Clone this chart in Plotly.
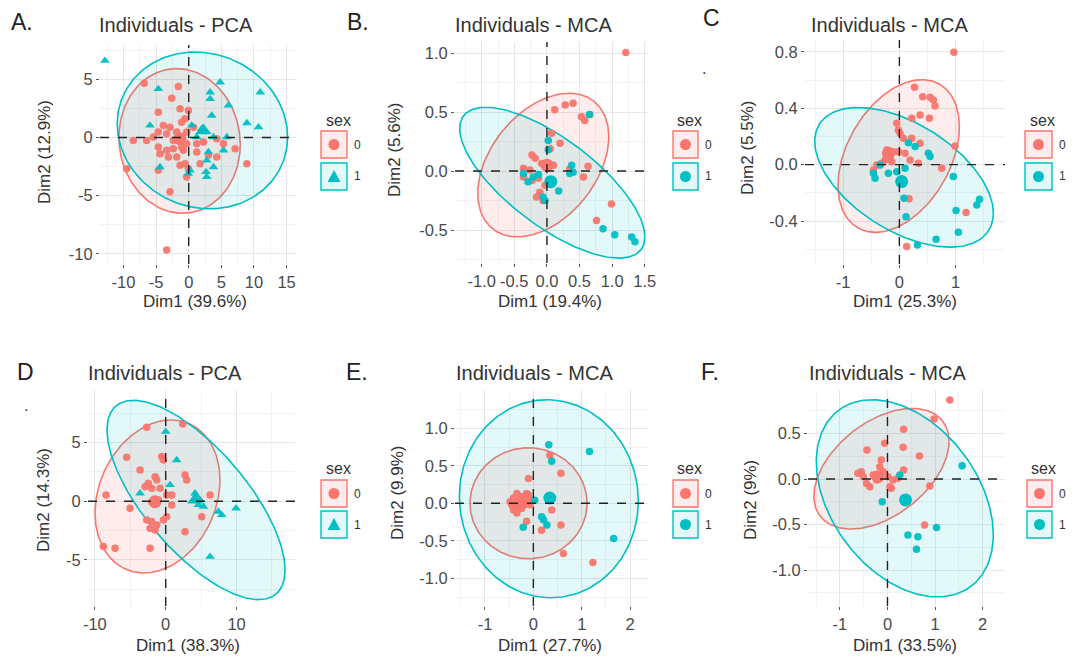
import numpy as np
import plotly.graph_objects as go

W, H = 1079, 663
RED = "#F8766D"
TEAL = "#00BFC4"
RED_FILL = "rgba(248,118,109,0.13)"
TEAL_FILL = "rgba(0,191,196,0.11)"
FONT = "Liberation Sans, Arial, sans-serif"

# ---------------- DATA ----------------
# Panel A (PCA)
A_x0 = [-6.81, -1.59, -2.61, -1.33, -4.66, -0.05, -0.56, -1.08, -3.89, -2.87, 0.72, -4.66, -3.38, -1.84, -0.31,
        -8.50, -6.45, -5.43, -0.31, 1.23, 2.25, 4.30, 5.33, 7.12, -4.66, -3.38, -2.36, -1.08, -4.40, -3.12, 1.23,
        3.02, 4.30, -1.33, -0.56, -0.05, 1.74, -9.52, -4.66, -2.87, -0.31, 8.91, -3.38, -2.36, -1.59, -0.82, -1.84]
A_y0 = [4.64, 4.36, 3.36, 2.45, 2.17, 2.31, 1.60, 1.31, 1.03, 0.88, 0.88, 0.46, 0.31, 0.46, 0.46,
        -0.26, -0.26, 0.03, -0.54, -0.54, -0.40, -0.11, -0.54, -0.97, -0.83, -1.11, -0.97, -0.83, -1.40, -1.68, -1.25,
        -1.54, -1.68, -2.39, -2.25, -2.68, -2.25, -2.68, -2.82, -4.67, -3.39, -2.25, -9.66, -0.26, 0.03, -1.11, -1.68]
A_x1 = [-12.85, -4.66, 4.81, 10.96, 3.28, 3.28, 6.09, 3.53, -5.94, 0.46, 2.00, 2.51, 8.91, 10.70, 5.84, 3.79,
        5.33, 3.02, 2.76, 3.79, 2.66, 2.76, 0.20, -4.40, -0.05, 1.23]
A_y1 = [6.58, 4.16, 4.73, 3.87, 3.87, 3.30, 2.74, 1.88, 1.03, 1.03, 0.74, 0.46, 1.23, 0.88, 0.03, 0.03,
        -1.11, -1.25, -1.97, -2.54, -2.96, -3.39, -2.82, -2.54, -3.11, 0.03]
A_mean0 = [-1.33, -0.11]
A_mean1 = [2.25, 0.60]
# ellipse: centre x, centre y, x half-extent, y offset of x-extreme, vertical half-chord
A_ell0 = [-1.4, -0.3, 9.3, -0.3, 6.2]
A_ell1 = [2.1, 0.6, 13.06, -0.57, 6.7]

# Panel B (MCA)
B_x0 = [1.21, 0.12, 0.28, 0.40, 0.53, 0.58, 0.66, 0.07, 0.20, 0.05, -0.23, -0.18, -0.08, 0.02, 0.10, -0.36, -0.26,
        -0.36, -0.23, -0.13, -0.03, -0.11, -0.16, -0.06, 0.05, 0.63, 0.56, 0.35, 0.99, 0.76]
B_y0 = [1.006, 0.52, 0.56, 0.575, 0.46, 0.43, 0.48, 0.32, 0.235, 0.19, 0.136, 0.108, 0.065, 0.065, 0.05, 0.023, 0.01,
        -0.05, -0.08, -0.06, -0.12, -0.18, -0.22, -0.25, -0.10, 0.04, -0.05, 0.02, -0.28, -0.42]
B_x1 = [0.65, 0.02, 0.02, -0.36, -0.29, -0.21, -0.13, 0.18, -0.06, -0.03, 0.38, 0.40, 0.35, 0.86, 1.04, 1.30, 1.35]
B_y1 = [0.48, 0.26, 0.18, -0.02, -0.09, -0.05, -0.03, -0.17, -0.22, -0.25, 0.05, -0.01, -0.02, -0.49, -0.54, -0.56, -0.60]
B_mean0 = [0.0, 0.05]
B_mean1 = [0.06, -0.09]
B_ell0 = [-0.056, 0.051, 1.005, 0.24, 0.56]
B_ell1 = [0.082, -0.099, 1.42, -0.46, 0.445]

# Panel C (MCA)
C_x0 = [0.97, 0.27, 0.415, 0.546, 0.605, 0.635, 0.22, 0.368, 0.534, -0.047, -0.018, 0.012, 0.071, 0.22, 0.368, 0.99,
        -0.226, -0.107, -0.166, -0.255, -0.315, -0.404, -0.463, -0.136, -0.018, 0.10, 0.19, 0.338, 0.754, 0.172,
        1.187, 0.13]
C_y0 = [0.797, 0.548, 0.482, 0.478, 0.459, 0.416, 0.329, 0.352, 0.329, 0.293, 0.246, 0.222, 0.187, 0.187, 0.151, 0.132,
        0.104, 0.092, 0.057, 0.033, 0.009, -0.002, -0.038, 0.021, 0.092, 0.08, 0.033, 0.009, -0.026, -0.243,
        -0.34, -0.58]
C_x1 = [0.16, 0.279, 0.516, 0.546, -0.344, -0.463, -0.433, -0.196, -0.047, 0.10, 0.083, 0.119, 0.96, 1.427, 1.377,
        1.009, 1.05, 0.653, 0.32]
C_y1 = [0.156, 0.128, 0.08, 0.057, -0.002, -0.061, -0.097, -0.061, -0.05, -0.026, -0.239, -0.369, -0.085, -0.246,
        -0.286, -0.326, -0.48, -0.53, -0.57]
C_mean0 = [-0.196, 0.08]
C_mean1 = [0.04, -0.12]
C_ell0 = [-0.012, 0.061, 1.08, 0.208, 0.50]
C_ell1 = [0.083, -0.09, 1.59, -0.255, 0.425]

# Panel D (PCA)
D_x0 = [-2.68, 2.40, -5.51, -0.56, -0.33, -3.62, 2.73, 2.96, -1.51, -1.27, -2.45, -2.92, -1.98, -0.80, -8.42, -1.98,
        -1.04, 0.14, 0.85, 6.26, 0.85, -5.04, 5.08, -2.68, -1.98, -1.27, -2.21, -1.51, -0.33, 0.14, 2.73, -8.80,
        -7.15, -2.21]
D_y0 = [6.31, 6.59, 3.75, 3.81, 3.52, 2.67, 2.24, 1.82, 2.10, 1.82, 1.53, 1.25, 1.11, 1.11, 0.54, -0.03,
        0.11, 0.54, 0.54, 0.54, -0.31, -0.60, -1.31, -1.59, -1.73, -2.02, -2.30, -2.44, -1.59, -1.31, -2.59, -3.86,
        -4.01, -4.01]
D_x1 = [0.0, 1.55, -3.62, 0.61, 4.14, 4.38, 4.85, 4.61, 5.32, 7.44, 7.91, 9.93, 6.26]
D_y1 = [5.94, 3.52, 0.68, 1.39, 0.68, 0.40, 0.11, -0.31, -0.45, -0.88, -1.16, -0.60, -4.72]
D_mean0 = [-1.51, -0.03]
D_mean1 = [4.14, 0.11]
D_ell0 = [-1.16, 0.41, 8.82, 1.41, 6.37]
D_ell1 = [4.28, 0.11, 12.57, -5.97, 6.05]

# Panel E (MCA)
E_x0 = [-0.48, -0.41, -0.38, -0.34, -0.31, -0.28, -0.24, -0.21, -0.17, -0.14, -0.10, -0.07, -0.03, -0.41, -0.34,
        -0.24, -0.14, -0.45, 0.34, -0.10, 0.57, 0.38, -0.14, 0.17, 0.57, 0.62, 1.23]
E_y0 = [0.02, 0.07, -0.02, 0.13, -0.04, 0.04, 0.09, 0.0, 0.07, 0.02, 0.11, -0.02, 0.04, -0.09, -0.13,
        -0.07, 0.13, -0.02, 0.64, 0.33, 0.40, -0.09, -0.24, -0.36, -0.29, -0.67, -0.79]
E_x1 = [0.32, 0.38, 1.16, 0.17, 0.28, 0.21, -0.21, 1.66, 0.03]
E_y1 = [0.78, 0.56, 0.69, -0.18, -0.29, -0.22, -0.32, -0.47, 0.04]
E_mean0 = [-0.21, 0.01]
E_mean1 = [0.34, 0.07]
E_ell0 = [-0.10, 0.0, 1.21, 0.0, 0.74]
E_ell1 = [0.32, 0.06, 1.85, -0.03, 1.32]

# Panel F (MCA)
F_x0 = [1.31, 0.98, 0.34, -0.43, 0.33, 0.67, 0.34, -0.06, -0.13, -0.16, -0.62, -0.51, -0.44, -0.30, -0.23, -0.09,
        0.01, 0.12, 0.22, 0.05, 0.08, -0.37, -0.55, 0.89, 0.78]
F_y0 = [0.867, 0.659, 0.545, 0.318, 0.348, 0.252, 0.099, 0.392, 0.209, 0.135, 0.062, 0.026, -0.048, 0.044, -0.011,
        0.08, 0.026, -0.011, 0.007, -0.084, -0.102, -0.084, 0.08, -0.077, -0.505]
F_x1 = [1.57, 0.26, -0.11, 0.43, 0.64, 0.61, 1.03]
F_y1 = [0.146, 0.044, -0.249, -0.615, -0.633, -0.772, -0.531]
F_mean0 = [-0.20, 0.026]
F_mean1 = [0.38, -0.23]
F_ell0 = [-0.126, 0.113, 1.42, 0.30, 0.59]
F_ell1 = [0.364, -0.212, 1.86, -0.40, 1.006]

# Tick labels
A_xticks = [-10, -5, 0, 5, 10, 15]; A_xlabels = ["-10", "-5", "0", "5", "10", "15"]
A_yticks = [-10, -5, 0, 5]; A_ylabels = ["-10", "-5", "0", "5"]
B_xticks = [-1.0, -0.5, 0.0, 0.5, 1.0, 1.5]; B_xlabels = ["-1.0", "-0.5", "0.0", "0.5", "1.0", "1.5"]
B_yticks = [-0.5, 0.0, 0.5, 1.0]; B_ylabels = ["-0.5", "0.0", "0.5", "1.0"]
C_xticks = [-1, 0, 1]; C_xlabels = ["-1", "0", "1"]
C_yticks = [-0.4, 0.0, 0.4, 0.8]; C_ylabels = ["-0.4", "0.0", "0.4", "0.8"]
D_xticks = [-10, 0, 10]; D_xlabels = ["-10", "0", "10"]
D_yticks = [-5, 0, 5]; D_ylabels = ["-5", "0", "5"]
E_xticks = [-1, 0, 1, 2]; E_xlabels = ["-1", "0", "1", "2"]
E_yticks = [-1.0, -0.5, 0.0, 0.5, 1.0]; E_ylabels = ["-1.0", "-0.5", "0.0", "0.5", "1.0"]
F_xticks = [-1, 0, 1, 2]; F_xlabels = ["-1", "0", "1", "2"]
F_yticks = [-1.0, -0.5, 0.0, 0.5]; F_ylabels = ["-1.0", "-0.5", "0.0", "0.5"]

labels = ["A.", "B.", "C", "D", "E.", "F."]
titles = ["Individuals - PCA", "Individuals - MCA", "Individuals - MCA",
          "Individuals - PCA", "Individuals - MCA", "Individuals - MCA"]
xtitles = ["Dim1 (39.6%)", "Dim1 (19.4%)", "Dim1 (25.3%)", "Dim1 (38.3%)", "Dim1 (27.7%)", "Dim1 (33.5%)"]
ytitles = ["Dim2 (12.9%)", "Dim2 (5.6%)", "Dim2 (5.5%)", "Dim2 (14.3%)", "Dim2 (9.9%)", "Dim2 (9%)"]
legend_title = "sex"
groups = ["0", "1"]

# ---------------- LAYOUT (pixels) ----------------
panels = [
    dict(d=(A_x0, A_y0, A_x1, A_y1, A_mean0, A_mean1, A_ell0, A_ell1), sym1="triangle-up",
         box=(100, 297, 45, 264), xr=(-13.6, 16.6), yr=(-10.86, 7.93),
         xt=(A_xticks, A_xlabels), yt=(A_yticks, A_ylabels), xminor=2.5, yminor=2.5,
         lab=(22, 22), tit=(97, 25), xtl=(195, 302), ytl=(45, 152), leg=(321, 347, 120, 131, 163)),
    dict(d=(B_x0, B_y0, B_x1, B_y1, B_mean0, B_mean1, B_ell0, B_ell1), sym1="circle",
         box=(455, 648, 42, 263), xr=(-1.41, 1.55), yr=(-0.78, 1.095),
         xt=(B_xticks, B_xlabels), yt=(B_yticks, B_ylabels), xminor=0.25, yminor=0.25,
         lab=(358, 22), tit=(453, 25), xtl=(550, 302), ytl=(395, 150), leg=(673, 698, 120, 131, 163)),
    dict(d=(C_x0, C_y0, C_x1, C_y1, C_mean0, C_mean1, C_ell0, C_ell1), sym1="circle",
         box=(805, 1005, 40, 264), xr=(-1.68, 1.88), yr=(-0.705, 0.884),
         xt=(C_xticks, C_xlabels), yt=(C_yticks, C_ylabels), xminor=0.5, yminor=0.2,
         lab=(711, 18), tit=(809, 25), xtl=(905, 302), ytl=(747, 148), leg=(1025, 1052, 120, 131, 163)),
    dict(d=(D_x0, D_y0, D_x1, D_y1, D_mean0, D_mean1, D_ell0, D_ell1), sym1="triangle-up",
         box=(88, 295, 390, 606), xr=(-10.97, 18.25), yr=(-8.93, 9.49),
         xt=(D_xticks, D_xlabels), yt=(D_yticks, D_ylabels), xminor=5, yminor=2.5,
         lab=(25, 372), tit=(86, 373), xtl=(188, 645), ytl=(43, 500), leg=(321, 347, 468, 480, 511)),
    dict(d=(E_x0, E_y0, E_x1, E_y1, E_mean0, E_mean1, E_ell0, E_ell1), sym1="circle",
         box=(455, 648, 390, 606), xr=(-1.62, 2.37), yr=(-1.37, 1.51),
         xt=(E_xticks, E_xlabels), yt=(E_yticks, E_ylabels), xminor=0.5, yminor=0.25,
         lab=(357, 372), tit=(454, 373), xtl=(550, 645), ytl=(397, 493), leg=(673, 698, 468, 480, 511)),
    dict(d=(F_x0, F_y0, F_x1, F_y1, F_mean0, F_mean1, F_ell0, F_ell1), sym1="circle",
         box=(808, 1005, 390, 606), xr=(-1.67, 2.47), yr=(-1.394, 0.977),
         xt=(F_xticks, F_xlabels), yt=(F_yticks, F_ylabels), xminor=0.5, yminor=0.25,
         lab=(710, 372), tit=(807, 373), xtl=(905, 645), ytl=(750, 500), leg=(1027, 1052, 468, 480, 511)),
]


def px(x):
    return x / W


def py(y):
    return 1 - y / H


def ellipse(p, n=240):
    cx, cy, ax, ay, by = p
    t = np.linspace(0, 2 * np.pi, n)
    return cx + ax * np.cos(t), cy + ay * np.cos(t) + by * np.sin(t)


fig = go.Figure()
shapes = []
annotations = []

for i, p in enumerate(panels):
    k = "" if i == 0 else str(i + 1)
    xa, ya = "x" + k, "y" + k
    x0, y0, x1, y1, m0, m1, e0, e1 = p["d"]
    bx0, bx1, by0, by1 = p["box"]

    # ellipses
    for e, col, fillc in ((e0, RED, RED_FILL), (e1, TEAL, TEAL_FILL)):
        ex, ey = ellipse(e)
        fig.add_trace(go.Scatter(x=ex, y=ey, mode="lines", fill="toself", fillcolor=fillc,
                                 line=dict(color=col, width=1.6), hoverinfo="skip", showlegend=False,
                                 xaxis=xa, yaxis=ya))
    # points
    fig.add_trace(go.Scatter(x=x0, y=y0, mode="markers", showlegend=False, xaxis=xa, yaxis=ya,
                             marker=dict(color=RED, size=7.5, symbol="circle", opacity=0.95,
                                         line=dict(width=0))))
    fig.add_trace(go.Scatter(x=x1, y=y1, mode="markers", showlegend=False, xaxis=xa, yaxis=ya,
                             marker=dict(color=TEAL, size=8.5 if p["sym1"] != "circle" else 7.5,
                                         symbol=p["sym1"], opacity=0.95, line=dict(width=0))))
    # group means
    fig.add_trace(go.Scatter(x=[m0[0]], y=[m0[1]], mode="markers", showlegend=False, xaxis=xa, yaxis=ya,
                             marker=dict(color=RED, size=13, symbol="circle", line=dict(width=0))))
    fig.add_trace(go.Scatter(x=[m1[0]], y=[m1[1]], mode="markers", showlegend=False, xaxis=xa, yaxis=ya,
                             marker=dict(color=TEAL, size=13 if p["sym1"] == "circle" else 14,
                                         symbol=p["sym1"], line=dict(width=0))))

    axcommon = dict(showgrid=True, gridcolor="#E6E6E6", gridwidth=1, zeroline=False, showline=False,
                    ticks="outside", ticklen=3, tickwidth=1, tickcolor="#555", automargin=False,
                    tickfont=dict(family=FONT, size=16.5, color="#4a4a4a"), tickmode="array")
    xdom = [px(bx0), px(bx1)]
    ydom = [py(by1), py(by0)]
    fig.update_layout(**{
        "xaxis" + k: dict(axcommon, domain=xdom, range=list(p["xr"]), anchor=ya,
                          tickvals=p["xt"][0], ticktext=p["xt"][1], tickangle=0,
                          minor=dict(showgrid=True, gridcolor="#F3F3F3", gridwidth=1,
                                     dtick=p["xminor"], tick0=0, ticks="")),
        "yaxis" + k: dict(axcommon, domain=ydom, range=list(p["yr"]), anchor=xa,
                          tickvals=p["yt"][0], ticktext=p["yt"][1],
                          minor=dict(showgrid=True, gridcolor="#F3F3F3", gridwidth=1,
                                     dtick=p["yminor"], tick0=0, ticks="")),
    })

    # dashed reference lines
    shapes.append(dict(type="line", xref=xa + " domain", yref=ya, x0=0, x1=1, y0=0, y1=0,
                       line=dict(color="#222", width=1.4, dash="dash"), layer="above"))
    shapes.append(dict(type="line", xref=xa, yref=ya + " domain", x0=0, x1=0, y0=0, y1=1,
                       line=dict(color="#222", width=1.4, dash="dash"), layer="above"))

    # texts
    lx, ly = p["lab"]
    annotations.append(dict(text=labels[i], x=px(lx), y=py(ly), xref="paper", yref="paper",
                            showarrow=False, xanchor="center", yanchor="middle",
                            font=dict(family=FONT, size=23, color="#222")))
    tx, ty = p["tit"]
    annotations.append(dict(text=titles[i], x=px(tx), y=py(ty), xref="paper", yref="paper",
                            showarrow=False, xanchor="left", yanchor="middle",
                            font=dict(family=FONT, size=20, color="#333")))
    ax_, ay_ = p["xtl"]
    annotations.append(dict(text=xtitles[i], x=px(ax_), y=py(ay_), xref="paper", yref="paper",
                            showarrow=False, xanchor="center", yanchor="middle",
                            font=dict(family=FONT, size=17, color="#333")))
    ax_, ay_ = p["ytl"]
    annotations.append(dict(text=ytitles[i], x=px(ax_), y=py(ay_), xref="paper", yref="paper",
                            showarrow=False, xanchor="center", yanchor="middle", textangle=-90,
                            font=dict(family=FONT, size=17, color="#333")))

    # legend (drawn manually)
    gx0, gx1, gsy, k1, k2 = p["leg"]
    annotations.append(dict(text=legend_title, x=px((gx0 + gx1) / 2 + 4), y=py(gsy), xref="paper",
                            yref="paper", showarrow=False, xanchor="center", yanchor="middle",
                            font=dict(family=FONT, size=16, color="#333")))
    for j, (ky, col, fillc) in enumerate(((k1, RED, RED_FILL), (k2, TEAL, TEAL_FILL))):
        shapes.append(dict(type="rect", xref="paper", yref="paper", x0=px(gx0), x1=px(gx1),
                           y0=py(ky + 27), y1=py(ky), line=dict(color=col, width=1.4), fillcolor=fillc))
        cxk, cyk = (gx0 + gx1) / 2, ky + 13.5
        sym = "circle" if j == 0 else p["sym1"]
        if sym == "circle":
            shapes.append(dict(type="circle", xref="paper", yref="paper", x0=px(cxk - 5.5),
                               x1=px(cxk + 5.5), y0=py(cyk + 5.5), y1=py(cyk - 5.5),
                               fillcolor=col, line=dict(width=0)))
        else:
            path = "M {:.5f} {:.5f} L {:.5f} {:.5f} L {:.5f} {:.5f} Z".format(
                px(cxk - 6.5), py(cyk + 5.5), px(cxk + 6.5), py(cyk + 5.5), px(cxk), py(cyk - 6.5))
            shapes.append(dict(type="path", xref="paper", yref="paper", path=path,
                               fillcolor=col, line=dict(width=0)))
        annotations.append(dict(text=groups[j], x=px(gx1 + 5), y=py(cyk), xref="paper", yref="paper",
                                showarrow=False, xanchor="left", yanchor="middle",
                                font=dict(family=FONT, size=12, color="#333")))

# stray dots present in the original figure
for (dx, dy) in ((704, 58), (22, 405)):
    annotations.append(dict(text=".", x=px(dx), y=py(dy), xref="paper", yref="paper", showarrow=False,
                            font=dict(family=FONT, size=16, color="#333")))

fig.update_layout(width=W, height=H, autosize=False, margin=dict(l=0, r=0, t=0, b=0, pad=0),
                  paper_bgcolor="white", plot_bgcolor="white", showlegend=False,
                  shapes=shapes, annotations=annotations)

# remove the browser's default page margin so the figure sits at the window's top-left corner
fig.write_html("out.html", config={"responsive": False, "displayModeBar": False},
               post_script="document.body.style.margin='0';document.body.style.overflow='hidden';")
